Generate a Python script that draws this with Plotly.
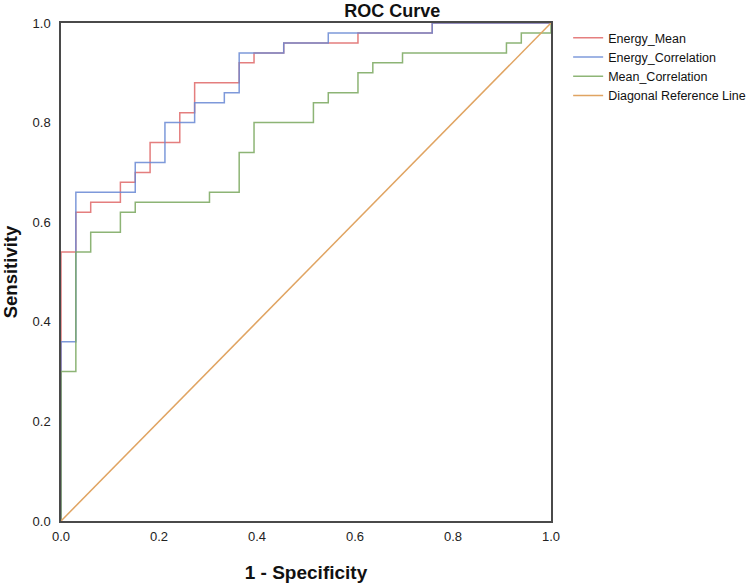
import plotly.graph_objects as go

N_NEG = 33  # number of negative cases (x step = 1/33)

# Energy_Mean: false-positive counts and sensitivity (step corners)
em_fp = [0, 0, 1, 2, 4, 5, 6, 8, 9, 12, 13, 15, 20, 25, 33]
em_tpr = [0, 0.54, 0.62, 0.64, 0.68, 0.70, 0.76, 0.82, 0.88, 0.92, 0.94, 0.96, 0.98, 1.0, 1.0]

# Energy_Correlation
ec_fp = [0, 0, 1, 5, 7, 9, 11, 12, 15, 18, 25, 33]
ec_tpr = [0, 0.36, 0.66, 0.72, 0.80, 0.84, 0.86, 0.94, 0.96, 0.98, 1.0, 1.0]

# Mean_Correlation
mc_fp = [0, 0, 1, 2, 4, 5, 10, 12, 13, 17, 18, 20, 21, 23, 30, 31, 33]
mc_tpr = [0, 0.30, 0.54, 0.58, 0.62, 0.64, 0.66, 0.74, 0.80, 0.84, 0.86, 0.90, 0.92, 0.94, 0.96, 0.98, 1.0]

diag_x = [0, 1]
diag_y = [0, 1]

tick_vals = [0, 0.2, 0.4, 0.6, 0.8, 1.0]
tick_text = ["0.0", "0.2", "0.4", "0.6", "0.8", "1.0"]

FONT = "Liberation Sans, Arial, sans-serif"

fig = go.Figure()
series = [
    ("Energy_Mean", em_fp, em_tpr, "#e06868"),
    ("Energy_Correlation", ec_fp, ec_tpr, "#6888d4"),
    ("Mean_Correlation", mc_fp, mc_tpr, "#7aa85e"),
]
for name, fp, tpr, col in series:
    fig.add_trace(go.Scatter(
        x=[v / N_NEG for v in fp], y=tpr, mode="lines", name=name,
        line=dict(color=col, width=1.5, shape="hv"), opacity=0.85,
    ))
fig.add_trace(go.Scatter(
    x=diag_x, y=diag_y, mode="lines", name="Diagonal Reference Line",
    line=dict(color="#e0a462", width=1.5),
))

axis_common = dict(
    range=[0, 1], tickvals=tick_vals, ticktext=tick_text,
    showgrid=False, zeroline=False, showline=True, mirror=True,
    linecolor="#4a4a4a", linewidth=1.5, ticks="", automargin=False,
    tickfont=dict(family=FONT, size=13, color="#222222"),
)

fig.update_layout(
    width=750, height=584,
    margin=dict(l=61, r=199, t=23, b=63, autoexpand=False),
    paper_bgcolor="white", plot_bgcolor="white",
    font=dict(family=FONT, color="#111111"),
    title=dict(text="<b>ROC Curve</b>", x=0.523, xref="container", xanchor="center",
               y=0.981, yref="container", yanchor="middle",
               font=dict(family=FONT, size=18, color="#111111")),
    xaxis=dict(**axis_common,
               title=dict(text="<b>1 - Specificity</b>", standoff=22,
                          font=dict(family=FONT, size=19, color="#111111")),
               ticklabelstandoff=3),
    yaxis=dict(**axis_common,
               title=dict(text="<b>Sensitivity</b>", standoff=14,
                          font=dict(family=FONT, size=18.5, color="#111111")),
               ticklabelstandoff=6),
    legend=dict(x=1.035, y=1.0, xanchor="left", yanchor="top",
                font=dict(family=FONT, size=12.5, color="#111111"),
                itemwidth=30, tracegroupgap=0, bgcolor="rgba(0,0,0,0)"),
    showlegend=True,
)

fig.write_html("out.html", config={"displayModeBar": False},
               post_script="document.body.style.margin='0';")
